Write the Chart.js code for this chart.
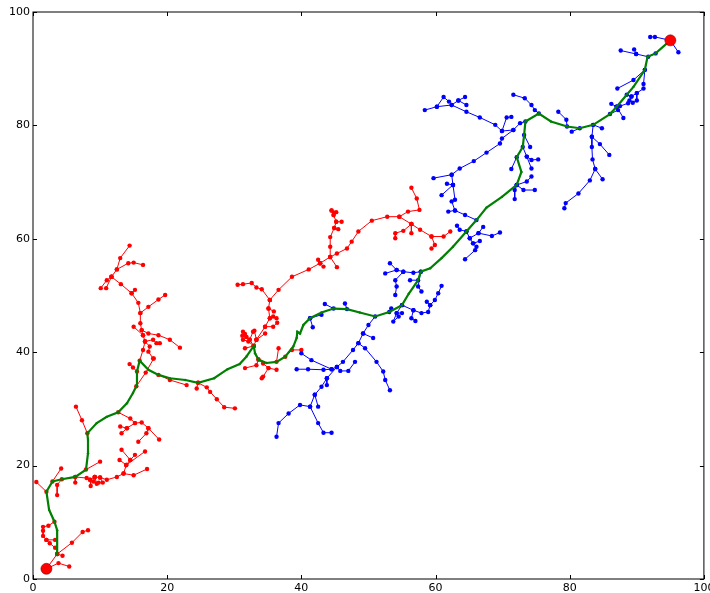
<!DOCTYPE html>
<html>
<head>
<meta charset="utf-8">
<script src="https://cdn.jsdelivr.net/npm/chart.js@4/dist/chart.umd.min.js"></script>
<style>
  html, body { margin: 0; padding: 0; background: #ffffff; }
  canvas { display: block; }
</style>
</head>
<body>
<canvas id="rrt" width="710" height="593"></canvas>
<script>
// Axis ticks (both axes)
const tickValues = [0, 20, 40, 60, 80, 100];

// Start and goal configurations
const startNode = [2, 1.8];
const goalNode = [95, 95];

// Final path joining the two trees
const pathNodes = [
  [3.6, 4.4], [3.6, 8.6], [3.2, 10.1], [2.4, 12.2], [2.0, 15.4], [2.9, 17.2], [4.3, 17.6],
  [6.3, 18.0], [7.9, 19.3], [8.2, 22.2], [8.2, 24.5], [8.1, 25.7], [9.5, 27.5], [11.0, 28.6],
  [12.7, 29.4], [14.0, 31.0], [14.9, 32.8], [15.4, 34.0], [15.5, 36.6], [15.9, 38.5],
  [17.2, 36.9], [18.7, 36.0], [20.4, 35.4], [22.7, 35.1], [24.6, 34.6], [27.0, 35.4],
  [29.0, 37.0], [30.8, 37.9], [31.8, 39.2], [32.9, 41.1], [33.1, 39.8], [33.6, 38.7],
  [34.8, 38.1], [36.3, 38.3], [37.6, 39.2], [38.8, 41.0], [39.3, 42.5], [39.4, 43.6],
  [39.8, 43.3], [40.3, 44.8], [41.3, 46.0], [43.0, 47.0], [44.8, 47.7], [46.8, 47.6],
  [48.7, 47.0], [51.0, 46.3], [53.1, 47.1], [55.0, 48.3], [56.0, 50.3], [57.4, 52.7],
  [57.8, 54.2], [59.2, 54.8], [60.9, 56.6], [62.6, 58.6], [64.6, 61.3], [66.1, 63.3],
  [67.6, 65.5], [69.9, 67.4], [72.1, 69.5], [72.8, 71.8], [72.1, 74.4], [73.0, 76.2],
  [73.2, 78.3], [73.4, 80.7], [75.4, 82.1], [77.2, 80.7], [79.6, 79.8], [81.5, 79.5],
  [83.5, 80.1], [86.0, 82.0], [87.0, 83.3], [88.5, 85.4], [89.5, 86.8], [91.2, 89.8],
  [91.6, 92.1], [92.8, 92.7], [95.0, 95.0]
];

// Tree grown from the start (each entry is one branch: parent node first)
const startTreeBranches = [
  [[2, 1.8], [3.6, 4.4]],
  [[2, 1.8], [3.8, 2.8], [5.4, 2.2]],
  [[3.6, 4.4], [4.4, 4.1]],
  [[3.6, 4.4], [5.8, 6.4], [7.4, 8.3], [8.2, 8.6]],
  [[3.2, 10.1], [2.3, 9.4], [1.5, 9.2], [1.5, 8.5], [1.5, 7.6], [2.0, 6.9], [2.5, 6.3], [3.3, 5.5]],
  [[2.0, 6.9], [3.3, 6.9]],
  [[2.0, 15.4], [0.5, 17.1]],
  [[2.9, 17.2], [4.2, 19.5]],
  [[4.3, 17.6], [3.6, 16.6], [3.6, 14.8]],
  [[6.3, 18.0], [8.0, 17.8], [8.5, 17.5], [9.2, 18.0], [10.0, 17.9], [11.0, 17.5], [12.5, 18.0], [13.5, 18.6], [15.0, 18.3], [17.0, 19.4]],
  [[9.2, 18.0], [9.5, 16.8]],
  [[9.2, 18.0], [9.0, 17.2], [9.8, 17.0]],
  [[10.0, 17.9], [10.4, 17.0]],
  [[8.5, 17.5], [8.6, 16.4]],
  [[6.3, 18.0], [6.3, 17.0]],
  [[13.5, 18.6], [13.9, 20.1], [14.5, 21.0], [13.2, 22.8]],
  [[14.5, 21.0], [15.2, 21.9]],
  [[13.9, 20.1], [16.7, 22.5]],
  [[13.9, 20.1], [12.9, 21.0]],
  [[7.9, 19.3], [10.0, 20.7]],
  [[8.1, 25.7], [7.3, 28.0], [6.4, 30.4]],
  [[12.7, 29.4], [14.5, 28.3], [15.2, 27.5], [16.2, 27.6], [17.2, 26.6], [18.8, 24.6]],
  [[15.2, 27.5], [14.0, 26.6], [13.0, 26.9]],
  [[14.0, 26.6], [13.2, 25.7]],
  [[17.2, 26.6], [16.9, 25.7], [15.7, 24.2]],
  [[24.6, 34.6], [24.4, 33.6]],
  [[24.6, 34.6], [25.9, 33.8], [26.4, 33.0], [27.4, 31.7], [28.5, 30.3], [30.1, 30.1]],
  [[18.7, 36.0], [20.4, 35.1], [22.9, 34.2]],
  [[15.4, 34.0], [16.8, 36.4], [18.0, 38.9]],
  [[15.5, 36.6], [14.9, 37.3], [14.4, 37.9]],
  [[15.9, 38.5], [16.4, 40.4], [16.7, 41.9], [16.4, 43.0], [16.2, 43.9], [16.0, 45.1], [16.0, 46.9], [15.7, 48.7], [14.7, 50.4], [13.1, 52.0], [11.7, 53.3], [11.0, 52.7], [10.1, 51.3]],
  [[11.7, 53.3], [10.9, 51.3]],
  [[11.7, 53.3], [12.5, 54.6], [13.0, 56.6], [14.4, 58.8]],
  [[12.5, 54.6], [14.2, 55.7], [15.0, 55.8], [16.4, 55.4]],
  [[14.7, 50.4], [15.2, 51.0]],
  [[16.0, 46.9], [17.2, 48.0], [18.7, 49.3], [19.7, 50.1]],
  [[16.2, 43.9], [17.2, 43.3], [18.7, 43.0], [20.4, 42.2], [21.9, 40.8]],
  [[16.4, 43.0], [15.0, 44.5]],
  [[16.7, 41.9], [17.9, 42.2], [18.4, 41.6], [18.9, 41.6]],
  [[16.7, 41.9], [17.4, 41.0], [17.2, 40.1], [17.9, 38.9]],
  [[32.9, 41.1], [32.3, 42.2], [31.8, 42.7], [31.6, 43.2], [31.3, 43.6]],
  [[31.8, 42.7], [31.2, 42.9]],
  [[32.3, 42.2], [32.8, 43.6]],
  [[32.9, 41.1], [32.1, 41.9], [31.3, 42.2]],
  [[32.9, 41.1], [31.6, 40.7]],
  [[32.9, 41.1], [33.3, 42.2], [34.6, 44.5], [35.3, 46.0], [35.1, 47.7], [35.3, 49.2]],
  [[33.3, 42.2], [33.0, 43.8]],
  [[35.3, 46.0], [35.8, 46.3], [36.3, 46.0]],
  [[35.1, 47.7], [35.9, 47.2]],
  [[34.6, 44.5], [35.8, 44.5], [36.4, 45.2]],
  [[33.3, 42.2], [34.6, 43.3]],
  [[33.6, 38.7], [34.3, 38.0], [35.1, 37.2], [34.3, 35.7], [34.1, 35.4]],
  [[35.1, 37.2], [36.3, 36.9]],
  [[33.6, 38.7], [33.3, 37.7], [31.6, 37.2]],
  [[36.3, 38.3], [36.6, 40.7]],
  [[37.6, 39.2], [38.6, 40.4], [40.0, 40.4]],
  [[35.3, 49.2], [34.1, 51.1], [33.3, 51.4], [32.6, 52.2], [31.3, 52.0], [30.5, 51.9]],
  [[35.3, 49.2], [36.6, 51.0], [38.6, 53.3], [41.1, 54.6], [42.8, 55.7], [44.3, 56.8], [45.3, 57.4], [46.8, 58.3], [47.5, 59.5], [48.5, 61.3], [50.5, 63.2], [52.8, 63.9], [54.6, 63.9], [55.9, 64.8], [57.6, 65.1], [57.2, 67.1], [56.4, 69.0]],
  [[54.6, 63.9], [56.4, 62.6], [57.7, 61.6], [59.4, 60.4], [61.2, 60.4], [62.2, 61.3]],
  [[59.4, 60.4], [59.9, 58.9], [59.4, 58.3]],
  [[56.4, 62.6], [55.2, 61.4], [54.0, 61.0], [54.0, 60.1]],
  [[56.4, 62.6], [56.4, 61.0]],
  [[44.3, 56.8], [44.3, 58.6], [44.3, 60.3], [44.9, 61.9], [45.2, 63.0], [44.8, 64.2], [44.5, 65.0]],
  [[44.9, 61.9], [45.5, 61.7]],
  [[45.2, 63.0], [46.0, 63.0]],
  [[44.8, 64.2], [45.2, 64.7]],
  [[44.5, 65.0], [44.9, 64.6]],
  [[42.8, 55.7], [42.5, 56.3]],
  [[42.8, 55.7], [43.3, 55.1]],
  [[44.3, 56.8], [45.3, 55.0]]
];

// Tree grown from the goal
const goalTreeBranches = [
  [[95, 95], [92.7, 95.6], [92.0, 95.6]],
  [[95, 95], [96.2, 92.9]],
  [[92.8, 92.7], [91.7, 92.1], [89.9, 92.6], [87.6, 93.2]],
  [[89.9, 92.6], [89.6, 93.4]],
  [[91.2, 89.8], [91.0, 87.3]],
  [[91.2, 89.8], [89.5, 88.0], [87.1, 86.5]],
  [[88.5, 85.4], [89.2, 85.1], [90.0, 85.7], [91.0, 86.5]],
  [[89.2, 85.1], [88.9, 84.4]],
  [[90.0, 85.7], [90.0, 84.4], [89.4, 84.0]],
  [[87.0, 83.3], [88.0, 81.3]],
  [[87.0, 83.3], [86.2, 83.8]],
  [[87.0, 83.3], [87.5, 83.4], [88.7, 83.9]],
  [[86.0, 82.0], [87.2, 82.7]],
  [[83.5, 80.1], [84.8, 79.5]],
  [[83.5, 80.1], [83.3, 78.0], [83.3, 76.2], [83.4, 74.0], [83.8, 72.3], [83.0, 70.3], [81.3, 68.0], [79.4, 66.3], [79.2, 65.4]],
  [[83.3, 78.0], [84.5, 76.7], [85.9, 74.8]],
  [[83.8, 72.3], [84.9, 70.5]],
  [[81.5, 79.5], [80.3, 78.9]],
  [[79.6, 79.8], [79.5, 81.0], [78.3, 82.4]],
  [[75.4, 82.1], [74.8, 82.7], [74.3, 83.6], [73.3, 84.8], [71.6, 85.4]],
  [[73.4, 80.7], [72.6, 80.4], [71.6, 79.2], [69.9, 77.7], [69.6, 76.8], [67.6, 75.2], [65.7, 73.7], [63.6, 72.4], [62.4, 71.3], [59.7, 70.7]],
  [[62.4, 71.3], [62.6, 69.5], [62.9, 66.9]],
  [[62.6, 69.5], [60.9, 67.7]],
  [[62.6, 69.5], [61.7, 69.7]],
  [[71.6, 79.2], [69.9, 79.0], [68.9, 80.1], [66.6, 81.4], [64.6, 82.4], [62.4, 83.6], [60.2, 83.3], [58.4, 82.7]],
  [[62.4, 83.6], [63.4, 84.4], [64.4, 85.0]],
  [[63.4, 84.4], [64.6, 83.6]],
  [[60.2, 83.3], [61.2, 85.0], [62.0, 84.2]],
  [[69.9, 79.0], [70.6, 81.4], [71.3, 81.5]],
  [[73.0, 76.2], [73.6, 74.5], [74.3, 73.9], [75.3, 74.0]],
  [[73.6, 74.5], [74.3, 72.4]],
  [[73.2, 78.3], [74.1, 76.2]],
  [[72.1, 74.4], [71.3, 72.3]],
  [[72.1, 69.5], [73.6, 70.1], [74.3, 71.0]],
  [[72.1, 69.5], [73.1, 68.6], [74.8, 68.6]],
  [[72.1, 69.5], [71.8, 68.6], [71.8, 67.0]],
  [[66.1, 63.3], [64.4, 64.2], [62.9, 65.0], [61.9, 64.8]],
  [[62.9, 65.0], [62.4, 66.6]],
  [[64.6, 61.3], [63.6, 61.6], [63.2, 62.3]],
  [[64.6, 61.3], [65.1, 60.1], [65.6, 59.2], [66.1, 58.6], [65.9, 58.0], [64.4, 56.4]],
  [[65.6, 59.2], [66.6, 59.6]],
  [[65.1, 60.1], [66.4, 61.0], [67.1, 62.1]],
  [[66.4, 61.0], [68.4, 60.5], [69.6, 61.1]],
  [[57.8, 54.2], [56.7, 54.0], [55.2, 54.2], [54.2, 54.5], [53.2, 55.7]],
  [[54.2, 54.5], [52.5, 53.9]],
  [[55.2, 54.2], [54.0, 52.7], [54.2, 51.6], [54.0, 50.1]],
  [[57.8, 54.2], [57.4, 51.6], [57.9, 50.7]],
  [[57.4, 52.7], [56.2, 52.7]],
  [[55.0, 48.3], [56.7, 47.4], [57.9, 46.9], [58.9, 47.1], [59.2, 48.3], [59.9, 49.2], [60.4, 50.4], [60.9, 51.7]],
  [[59.2, 48.3], [58.7, 48.9]],
  [[56.7, 47.4], [56.4, 46.0], [57.0, 45.5]],
  [[55.0, 48.3], [54.2, 46.9], [53.7, 45.4], [54.5, 46.3]],
  [[54.2, 46.9], [55.0, 46.9]],
  [[51.0, 46.3], [50.0, 44.8], [49.2, 43.3], [48.5, 41.6], [47.7, 40.4], [46.2, 38.3], [45.3, 37.4], [43.8, 35.4], [43.0, 33.9], [42.0, 32.5], [41.3, 30.4], [39.8, 30.7], [38.1, 29.2], [36.6, 27.5], [36.3, 25.1]],
  [[41.3, 30.4], [42.5, 27.5], [43.3, 25.8], [44.5, 25.8]],
  [[49.2, 43.3], [50.7, 42.5]],
  [[48.5, 41.6], [49.5, 40.7], [51.2, 38.3], [52.2, 36.6], [52.5, 35.1], [53.2, 33.3]],
  [[45.3, 37.4], [44.5, 37.0], [43.3, 36.9], [41.0, 37.0], [39.3, 37.0]],
  [[45.3, 37.4], [45.8, 36.7], [47.0, 36.7], [48.0, 38.3]],
  [[44.5, 37.0], [41.5, 38.6], [40.0, 39.8]],
  [[43.8, 35.4], [43.8, 34.2]],
  [[42.0, 32.5], [42.5, 30.4]],
  [[41.3, 46.0], [43.0, 46.6]],
  [[41.3, 46.0], [41.7, 44.4]],
  [[44.8, 47.7], [43.5, 48.5]],
  [[46.8, 47.6], [46.5, 48.6]],
  [[53.1, 47.1], [53.4, 47.7]]
];

// Flatten branches into one series; a null y breaks the line between branches
function branchPoints(branches) {
  const pts = [];
  branches.forEach(branch => {
    branch.forEach(([x, y]) => pts.push({ x, y }));
    const last = branch[branch.length - 1];
    pts.push({ x: last[0], y: null });
  });
  return pts;
}
const asPoints = list => list.map(([x, y]) => ({ x, y }));

// Black frame with inward tick marks on all four sides
const frameTicks = {
  id: 'frameTicks',
  afterDraw(chart) {
    const { ctx, chartArea: a, scales } = chart;
    const len = 4;
    ctx.save();
    ctx.strokeStyle = '#000000';
    ctx.lineWidth = 1;
    ctx.strokeRect(a.left, a.top, a.right - a.left, a.bottom - a.top);
    ctx.beginPath();
    tickValues.forEach(v => {
      const px = Math.round(scales.x.getPixelForValue(v)) + 0.5;
      ctx.moveTo(px, a.bottom); ctx.lineTo(px, a.bottom - len);
      ctx.moveTo(px, a.top); ctx.lineTo(px, a.top + len);
      const py = Math.round(scales.y.getPixelForValue(v)) + 0.5;
      ctx.moveTo(a.left, py); ctx.lineTo(a.left + len, py);
      ctx.moveTo(a.right, py); ctx.lineTo(a.right - len, py);
    });
    ctx.stroke();
    ctx.restore();
  }
};

const tickFont = { family: 'DejaVu Sans', size: 11 };

new Chart(document.getElementById('rrt'), {
  type: 'scatter',
  data: {
    datasets: [
      {
        label: 'start tree',
        data: branchPoints(startTreeBranches),
        showLine: true,
        spanGaps: false,
        borderColor: '#ff0000',
        backgroundColor: '#ff0000',
        borderWidth: 1,
        pointRadius: 2.2,
        pointBorderWidth: 0,
        order: 4
      },
      {
        label: 'goal tree',
        data: branchPoints(goalTreeBranches),
        showLine: true,
        spanGaps: false,
        borderColor: '#0000ff',
        backgroundColor: '#0000ff',
        borderWidth: 1,
        pointRadius: 2.2,
        pointBorderWidth: 0,
        order: 3
      },
      {
        label: 'path',
        data: asPoints(pathNodes),
        showLine: true,
        borderColor: '#008000',
        backgroundColor: '#008000',
        borderWidth: 2.2,
        pointRadius: 1.2,
        pointBorderWidth: 0,
        order: 2
      },
      {
        label: 'endpoints',
        data: asPoints([startNode, goalNode]),
        showLine: false,
        backgroundColor: '#ff0000',
        borderColor: '#7a0000',
        borderWidth: 0.6,
        pointRadius: 5.5,
        order: 1
      }
    ]
  },
  options: {
    responsive: false,
    animation: false,
    devicePixelRatio: 1,
    layout: { padding: { top: 12, right: 6, left: 0, bottom: 0 } },
    plugins: {
      legend: { display: false },
      tooltip: { enabled: false }
    },
    scales: {
      x: {
        type: 'linear',
        min: 0,
        max: 100,
        grid: { display: false, drawTicks: false },
        border: { display: false },
        afterBuildTicks: s => { s.ticks = tickValues.map(v => ({ value: v })); },
        ticks: { font: tickFont, color: '#000000', padding: 3, maxRotation: 0, autoSkip: false },
        afterFit: s => { s.height = 14; s.paddingLeft = 0; s.paddingRight = 0; }
      },
      y: {
        type: 'linear',
        min: 0,
        max: 100,
        grid: { display: false, drawTicks: false },
        border: { display: false },
        afterBuildTicks: s => { s.ticks = tickValues.map(v => ({ value: v })); },
        ticks: { font: tickFont, color: '#000000', padding: 3, autoSkip: false },
        afterFit: s => { s.width = 33; s.paddingTop = 0; s.paddingBottom = 0; }
      }
    }
  },
  plugins: [frameTicks]
});
</script>
</body>
</html>
